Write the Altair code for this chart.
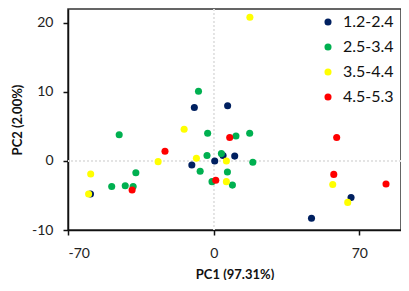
import altair as alt
import pandas as pd

groups = ["1.2-2.4", "2.5-3.4", "3.5-4.4", "4.5-5.3"]
colors = ["#002060", "#00B050", "#FFFF00", "#FF0000"]

g1_x = [-9.3, 6.7, -10.5, 0.5, 4.5, 10.1, 66.0, 47.0, -59.2]
g1_y = [7.75, 8.0, -0.6, 0.0, 0.8, 0.7, -5.3, -8.3, -4.8]

g2_x = [-45.4, -7.3, -2.9, 10.7, 17.3, -49.0, -42.5, -38.7, -37.4, -6.5, -3.2, 3.7, 18.8, 6.6, -0.8, 9.0]
g2_y = [3.8, 10.1, 4.0, 3.6, 4.0, -3.7, -3.6, -3.7, -1.7, -1.5, 0.8, 1.06, -0.2, -1.6, -3.0, -3.5]

g3_x = [17.4, -14.2, -59.1, -60.1, -26.7, -8.3, 6.1, 6.1, 57.2, 64.4]
g3_y = [20.8, 4.6, -1.9, -4.8, -0.1, 0.4, 0.0, -3.0, -3.4, -6.0]

g4_x = [-23.4, 7.7, 59.1, -39.2, 1.0, 57.7, 82.8]
g4_y = [1.4, 3.4, 3.4, -4.2, -2.8, -1.95, -3.35]

xs = [g1_x, g2_x, g3_x, g4_x]
ys = [g1_y, g2_y, g3_y, g4_y]

rows = []
for gi, (gx, gy) in enumerate(zip(xs, ys)):
    for a, b in zip(gx, gy):
        rows.append({"PC1": a, "PC2": b, "group": groups[gi], "ord": gi})
df = pd.DataFrame(rows)

FONT = "Lato"

xscale = alt.Scale(domain=[-70, 90], nice=False, zero=False)
yscale = alt.Scale(domain=[-10, 22], nice=False, zero=False)

points = alt.Chart(df).mark_circle(size=50, opacity=1).encode(
    x=alt.X("PC1:Q", scale=xscale,
            axis=alt.Axis(values=[-70, 0, 70], title="PC1 (97.31%)", grid=False,
                          labelExpr="'' + datum.value",
                          tickSize=5, labelPadding=11, titleY=44, titleBaseline="middle")),
    y=alt.Y("PC2:Q", scale=yscale,
            axis=alt.Axis(values=[-10, 0, 10, 20], title="PC2 (2.00%)", grid=False,
                          labelExpr="'' + datum.value",
                          tickSize=5, labelPadding=10, titleX=-51, titleBaseline="middle")),
    color=alt.Color("group:N", scale=alt.Scale(domain=groups, range=colors),
                    legend=alt.Legend(title=None, orient="none", legendX=252, legendY=5,
                                      symbolSize=50, symbolType="circle",
                                      labelFontSize=16, labelFont=FONT, labelColor="#111",
                                      labelOffset=7, rowPadding=9, padding=0,
                                      symbolStrokeWidth=0)),
    order=alt.Order("ord:Q"),
)

vline = alt.Chart(df).mark_rule(color="#e3e3e3", strokeDash=[2, 2], strokeWidth=1).encode(
    x=alt.datum(0, scale=xscale)
)
hline = alt.Chart(df).mark_rule(color="#e3e3e3", strokeDash=[2, 2], strokeWidth=1).encode(
    y=alt.datum(0, scale=yscale)
)

chart = alt.layer(vline, hline, points).properties(
    width=333, height=221,
    autosize=alt.AutoSizeParams(type="none"),
    padding={"left": 60, "top": 1, "right": 0, "bottom": 50},
).configure_view(
    stroke="#333333", strokeWidth=1.5
).configure_axis(
    labelFont=FONT, labelFontSize=14, labelColor="#222",
    titleFont=FONT, titleFontSize=13, titleFontWeight="bold", titleColor="#111",
    domainColor="#111", domainWidth=1.5, tickColor="#111", tickWidth=1.5,
)

chart.save("out.html", embed_options={"renderer": "svg", "actions": False})
